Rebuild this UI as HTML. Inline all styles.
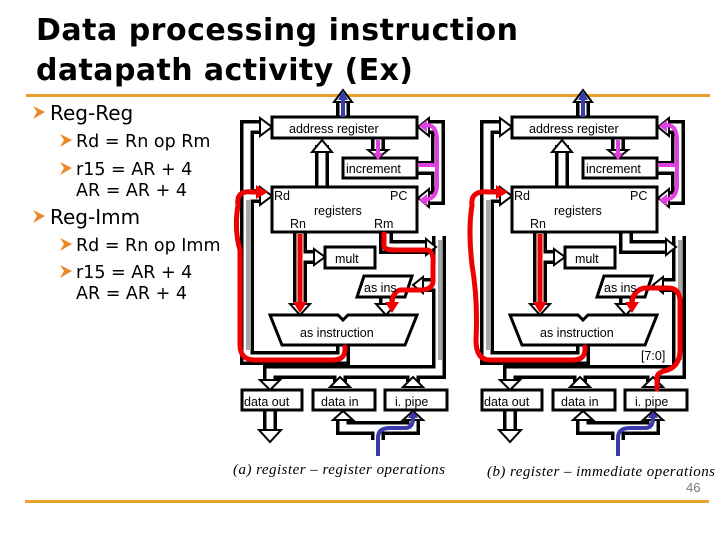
<!DOCTYPE html>
<html><head><meta charset="utf-8"><style>
html,body{margin:0;padding:0;background:#fff;}
body{width:720px;height:540px;overflow:hidden;position:relative;font-family:"Liberation Sans","DejaVu Sans",sans-serif;}
</style></head><body>
<svg width="720" height="540" viewBox="0 0 720 540" xmlns="http://www.w3.org/2000/svg" style="position:absolute;left:0;top:0">
<defs>
<g id="dp">
 <g fill="none" stroke="#000" stroke-width="14" stroke-linejoin="miter">
  <path d="M343,345 V358 H247 V127 H262"/>
  <path d="M247,196 H262"/>
  <path d="M322,187 V145"/>
  <path d="M378,138 V152"/>
  <path d="M417,168 H438"/>
  <path d="M425,127 H438 V198 H425"/>
  <path d="M343,117 V100"/>
  <path d="M300,232 V306"/>
  <path d="M300,257 H316"/>
  <path d="M386,232 V247 H426"/>
  <path d="M439,236 V372 H270 V382"/>
  <path d="M439,285 H420"/>
  <path d="M386,297 V306"/>
  <path d="M340,372 V382"/>
  <path d="M413,372 V382"/>
  <path d="M270,410 V432"/>
  <path d="M343,416 V428 H413 V416"/>
  <path d="M378,428 V440"/>
 </g>
 <g fill="none" stroke="#fff" stroke-width="7" stroke-linejoin="miter">
  <path d="M343,345 V358 H247 V127 H262"/>
  <path d="M247,196 H262"/>
  <path d="M322,187 V145"/>
  <path d="M378,138 V152"/>
  <path d="M417,168 H438"/>
  <path d="M425,127 H438 V198 H425"/>
  <path d="M343,117 V100"/>
  <path d="M300,232 V306"/>
  <path d="M300,257 H316"/>
  <path d="M386,232 V247 H426"/>
  <path d="M439,236 V372 H270 V382"/>
  <path d="M439,285 H420"/>
  <path d="M386,297 V306"/>
  <path d="M340,372 V382"/>
  <path d="M413,372 V382"/>
  <path d="M270,410 V432"/>
  <path d="M343,416 V428 H413 V416"/>
  <path d="M378,428 V440"/>
 </g>
 <rect x="246" y="200" width="5" height="150" fill="#a8a8a8"/>
 <rect x="438" y="240" width="4" height="120" fill="#a8a8a8"/>
 <g fill="#fff" stroke="#000" stroke-width="2" stroke-linejoin="miter">
  <polygon points="260,118 272,127 260,136"/>
  <polygon points="260,187 272,196 260,205"/>
  <polygon points="312,152 322,140 332,152"/>
  <polygon points="368,150 378,158 388,150"/>
  <polygon points="429,118 418,127 429,136"/>
  <polygon points="429,189 418,198 429,207"/>
  <polygon points="334,102 343,90 352,102"/>
  <polygon points="290,304 300,315 310,304"/>
  <polygon points="314,249 325,257 314,265"/>
  <polygon points="426,239 436,247 426,255"/>
  <polygon points="423,277 413,285 423,293"/>
  <polygon points="376,304 386,315 396,304"/>
  <polygon points="260,380 270,390 280,380"/>
  <polygon points="330,387 340,377 350,387"/>
  <polygon points="403,387 413,377 423,387"/>
  <polygon points="333,420 343,411 353,420"/>
  <polygon points="403,420 413,411 423,420"/>
  <polygon points="259,430 270,442 281,430"/>
 </g>
 <g fill="#fff" stroke="#000" stroke-width="3">
  <rect x="272" y="117" width="145" height="21"/>
  <rect x="343" y="158" width="74" height="20"/>
  <rect x="272" y="187" width="145" height="45"/>
  <rect x="325" y="247" width="50" height="21"/>
  <polygon points="364,276 412,276 405,297 357,297"/>
  <polygon points="270,315 338,315 343,320 348,315 417,315 405,345 282,345"/>
  <rect x="242" y="390" width="60" height="20"/>
  <rect x="313" y="390" width="62" height="20"/>
  <rect x="385" y="390" width="62" height="20"/>
 </g>
 <path d="M343,117 V98" stroke="#3a3aa8" stroke-width="4" fill="none"/>
 <polygon points="338,100 343,90 348,100" fill="#3a3aa8"/>
 <path d="M378,456 V438 Q378,428 390,428 H405 Q413,428 413,418" stroke="#3a3aa8" stroke-width="4" fill="none"/>
 <polygon points="408,418 413,411 418,418" fill="#3a3aa8"/>
 <g stroke="#e040e0" stroke-width="4" fill="none">
  <path d="M422,126 Q437,122 437,140 V185 Q437,200 422,200"/>
  <path d="M418,165 H436"/>
  <path d="M378,140 V154"/>
 </g>
 <g fill="#e040e0">
  <polygon points="419,126 427,120 427,132"/>
  <polygon points="419,200 427,194 427,206"/>
  <polygon points="373,153 378,160 383,153"/>
 </g>
 <path d="M300,234 V305" stroke="#f00000" stroke-width="5" fill="none"/>
 <polygon points="293,302 300,313 307,302" fill="#f00000"/>
</g>
</defs>

<text x="36" y="40" font-family="DejaVu Sans, Liberation Sans, sans-serif" font-weight="bold" font-size="30" fill="#000" textLength="482" lengthAdjust="spacing">Data processing instruction</text>
<text x="36" y="80" font-family="DejaVu Sans, Liberation Sans, sans-serif" font-weight="bold" font-size="30" fill="#000" textLength="377" lengthAdjust="spacing">datapath activity (Ex)</text>
<rect x="26" y="94" width="684" height="3" fill="#e8a030"/>
<rect x="25" y="500" width="684" height="3" fill="#e8a030"/>
<text x="686" y="492" font-size="13" fill="#777">46</text>

<g font-family="DejaVu Sans, Liberation Sans, sans-serif" fill="#000">
 <g fill="#e8892a">
  <polygon points="33,106 45,112 33,119 37,112"/>
  <polygon points="60,134 72,140 60,147 64,140"/>
  <polygon points="60,162 72,168 60,175 64,168"/>
  <polygon points="33,210 45,216 33,223 37,216"/>
  <polygon points="60,238 72,244 60,251 64,244"/>
  <polygon points="60,265 72,271 60,278 64,271"/>
 </g>
 <text x="50" y="120" font-size="20">Reg-Reg</text>
 <text x="76" y="147" font-size="17.5">Rd = Rn op Rm</text>
 <text x="76" y="175" font-size="17.5">r15 = AR + 4</text>
 <text x="76" y="196" font-size="17.5">AR = AR + 4</text>
 <text x="50" y="224" font-size="20">Reg-Imm</text>
 <text x="76" y="251" font-size="17.5">Rd = Rn op Imm</text>
 <text x="76" y="278" font-size="17.5">r15 = AR + 4</text>
 <text x="76" y="299" font-size="17.5">AR = AR + 4</text>
</g>

<use href="#dp"/>
<use href="#dp" transform="translate(240,0)"/>

<g stroke="#f00000" stroke-width="5" fill="none" stroke-linecap="round">
 <path d="M345,347 Q346,360 333,360 H255 Q240,360 240,345 V250 Q234,230 238,205 Q236,190 252,192 H258"/>
 <path d="M384,234 V246 Q384,250 395,250 H428 Q434,252 433,265 V282 Q432,290 420,290 H400 Q392,292 392,305"/>
 <path d="M585,347 Q586,360 573,360 H490 Q476,360 476,340 Q478,300 472,265 Q468,230 472,205 Q470,190 490,192 H498"/>
 <path d="M657,389 V378 Q657,372 668,370 Q680,365 680,350 V300 Q679,288 668,288 H645 Q632,290 632,305"/>
</g>
<g fill="#f00000">
 <polygon points="256,185 268,192 256,199"/>
 <polygon points="385,302 392,313 399,302"/>
 <polygon points="496,185 508,192 496,199"/>
 <polygon points="625,302 632,313 639,302"/>
</g>

<g font-family="Liberation Sans, sans-serif" font-size="12.5" fill="#000">
 <text x="289" y="133">address register</text>
 <text x="346" y="173">increment</text>
 <text x="274" y="200">Rd</text>
 <text x="390" y="200">PC</text>
 <text x="314" y="215">registers</text>
 <text x="290" y="228">Rn</text>
 <text x="374" y="228">Rm</text>
 <text x="335" y="263">mult</text>
 <text x="364" y="292">as ins</text>
 <text x="300" y="337">as instruction</text>
 <text x="244" y="406">data out</text>
 <text x="321" y="406">data in</text>
 <text x="395" y="406">i. pipe</text>

 <text x="529" y="133">address register</text>
 <text x="586" y="173">increment</text>
 <text x="514" y="200">Rd</text>
 <text x="630" y="200">PC</text>
 <text x="554" y="215">registers</text>
 <text x="530" y="228">Rn</text>
 <text x="575" y="263">mult</text>
 <text x="604" y="292">as ins</text>
 <text x="540" y="337">as instruction</text>
 <text x="641" y="360">[7:0]</text>
 <text x="484" y="406">data out</text>
 <text x="561" y="406">data in</text>
 <text x="635" y="406">i. pipe</text>
</g>
<g font-family="Liberation Serif, serif" font-style="italic" font-size="15" fill="#000">
 <text x="233" y="474" textLength="212" lengthAdjust="spacing">(a) register – register operations</text>
 <text x="487" y="476" textLength="228" lengthAdjust="spacing">(b) register – immediate operations</text>
</g>
</svg>
</body></html>
